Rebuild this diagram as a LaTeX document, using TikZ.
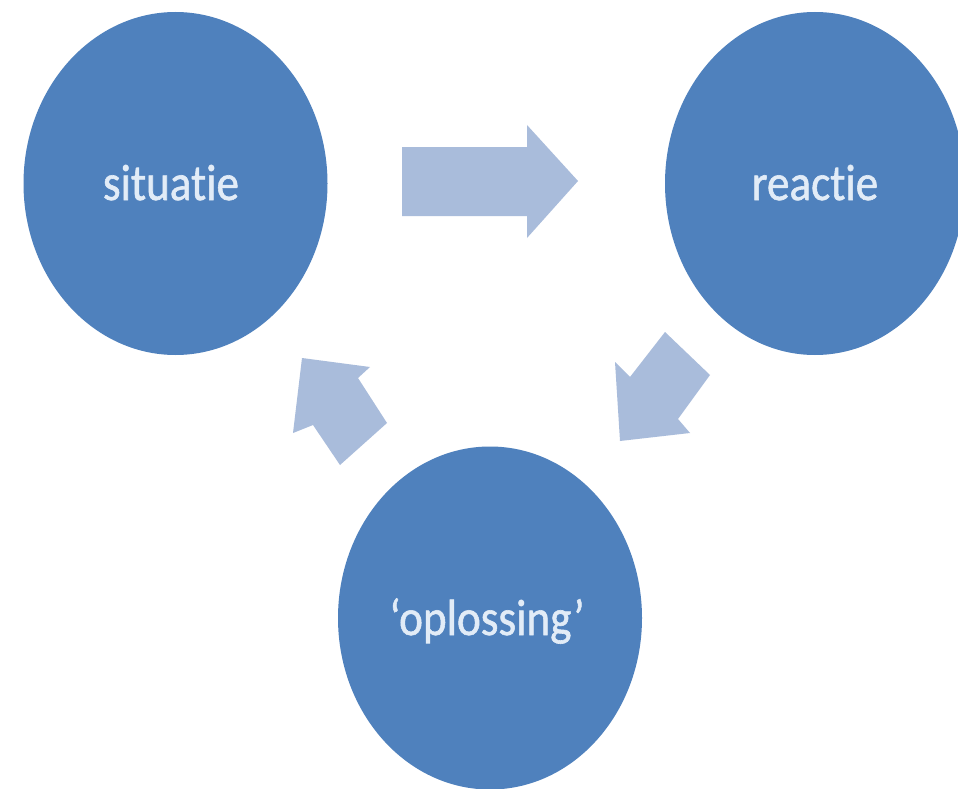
\documentclass[tikz,border=0pt]{standalone}
\usepackage{fontspec}
\setmainfont{Carlito}
\newfontfamily\lblfont{Carlito}[Ligatures=NoCommon, FakeBold=1.2]
\usetikzlibrary{shapes.geometric}
\definecolor{circblue}{HTML}{4F81BD}
\definecolor{arrowblue}{HTML}{A9BCDB}
\definecolor{txtlight}{HTML}{E2ECF7}
\newcommand{\lbltext}[1]{\scalebox{0.886}[1]{\lblfont\fontsize{51}{60}\selectfont #1}}
\tikzset{
  bubble/.style={ellipse, fill=circblue, draw=none, inner sep=0pt, minimum width=304pt, minimum height=343pt},
  bubbletext/.style={anchor=base, text=txtlight, inner sep=0pt},
  blockarrow/.style={fill=arrowblue, draw=none}
}
\begin{document}
\begin{tikzpicture}[x=1pt,y=-1pt]
\fill[white] (0,0) rectangle (958,789);
\useasboundingbox (0,0) rectangle (958,789);
% circles
\node[bubble] (sit) at (175.5,183.5) {};
\node[bubble, minimum width=300pt] (rea) at (815,183.5) {};
\node[bubble] (opl) at (490,618) {};
% labels
\node[bubbletext] (sitT) at (171,200) {\lbltext{situatie}};
\node[bubbletext] (reaT) at (815,200) {\lbltext{reactie}};
\node[bubbletext] (oplT) at (487,635) {\lbltext{‘oplossing’}};
% block arrows
\fill[blockarrow] (402,147) -- (527,147) -- (527,125) -- (578,181) -- (527,238) -- (527,216) -- (402,216) -- cycle;
\fill[blockarrow] (665,332) -- (710,375) -- (678,419) -- (690,433) -- (620,441) -- (615,362) -- (630,377) -- cycle;
\fill[blockarrow] (302,358) -- (370,367) -- (358,378) -- (387,423) -- (340,465) -- (313,425) -- (293,433) -- cycle;
\end{tikzpicture}
\end{document}
